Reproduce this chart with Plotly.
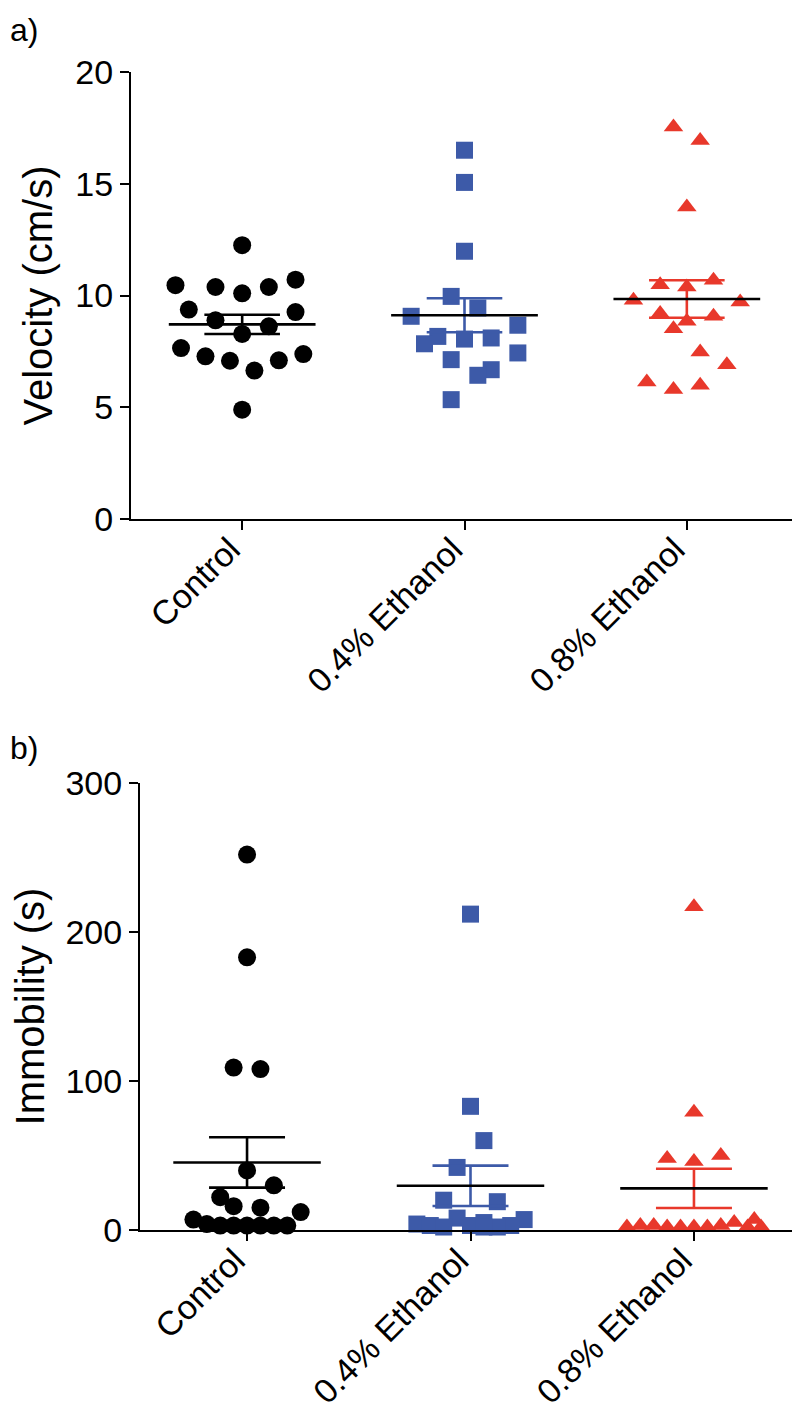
import numpy as np
import plotly.graph_objects as go

# ---------------- data ----------------
groups = ["Control", "0.4% Ethanol", "0.8% Ethanol"]

vel_control = [12.25, 10.46, 10.38, 10.10, 10.38, 10.71, 9.37, 9.26, 8.89, 8.62,
               8.28, 7.65, 7.28, 7.08, 6.64, 7.10, 7.38, 4.89]
vel_eth04 = [16.5, 15.06, 11.98, 9.96, 9.44, 9.07, 8.67, 8.17, 7.84, 8.05,
             8.10, 7.43, 7.13, 6.68, 6.43, 5.34]
vel_eth08 = [17.54, 16.94, 13.96, 10.68, 10.48, 10.38, 9.79, 9.71, 9.19, 9.07,
             8.85, 8.51, 7.47, 6.90, 6.13, 5.79, 5.98]

imm_control = [252, 183, 109, 108, 40, 30, 22, 16, 15, 12, 7, 4, 3, 3, 3, 3, 3, 3]
imm_eth04 = [212, 83, 60, 42, 20, 19, 8, 7, 5, 4, 3, 3, 3, 2, 2, 2]
imm_eth08 = [217, 79, 50, 48, 46, 7, 5, 3, 3, 3, 2, 2, 2, 2, 2, 2, 2]

# beeswarm horizontal spread (category units)
vel_control_dx = [0, -0.30, -0.12, 0, 0.12, 0.24, -0.24, 0.24, -0.12, 0.12,
                  0, -0.275, -0.165, -0.055, 0.055, 0.165, 0.275, 0]
vel_eth04_dx = [0, 0, 0, -0.06, 0.06, -0.24, 0.24, -0.12, -0.18, 0,
                0.12, 0.24, -0.06, 0.12, 0.06, -0.06]
vel_eth08_dx = [-0.06, 0.06, 0, 0.12, -0.12, 0, -0.24, 0.24, -0.12, 0.12,
                0, -0.06, 0.06, 0.18, -0.18, -0.06, 0.06]

imm_control_dx = [0, 0, -0.06, 0.06, 0, 0.12, -0.12, -0.06, 0.06, 0.24,
                  -0.24, -0.18, -0.12, -0.06, 0, 0.06, 0.12, 0.18]
imm_eth04_dx = [0, 0, 0.06, -0.06, -0.12, 0.12, -0.06, 0.24, 0.06, -0.24,
                0.18, -0.18, 0, -0.12, 0.12, 0.06]
imm_eth08_dx = [0, 0, 0.12, -0.12, 0, 0.27, 0.18, -0.24, -0.18, 0.12,
                -0.06, 0.06, -0.30, 0, -0.12, 0.30, 0.24]

BLACK = "#000000"
BLUE = "#3D5AA8"
RED = "#E8382B"

W, H = 800, 1421
FONT = "Liberation Sans, Arial, Helvetica, sans-serif"

fig = go.Figure()


def add_group(idx, vals, dx, color, symbol, size, errcolor, xa, ya):
    xs = [idx + d for d in dx]
    fig.add_trace(go.Scatter(
        x=xs, y=vals, mode="markers", xaxis=xa, yaxis=ya,
        marker=dict(symbol=symbol, size=size, color=color, line=dict(width=0)),
        cliponaxis=False, showlegend=False, hoverinfo="y"))
    arr = np.array(vals, dtype=float)
    m = arr.mean()
    sem = arr.std(ddof=1) / np.sqrt(len(arr))
    lw = 2.6
    # SEM bar with caps
    fig.add_trace(go.Scatter(
        x=[idx, idx, None, idx - 0.17, idx + 0.17, None, idx - 0.17, idx + 0.17],
        y=[m - sem, m + sem, None, m + sem, m + sem, None, m - sem, m - sem],
        mode="lines", line=dict(color=errcolor, width=lw), xaxis=xa, yaxis=ya,
        cliponaxis=False, showlegend=False, hoverinfo="skip"))
    # mean line
    fig.add_trace(go.Scatter(
        x=[idx - 0.33, idx + 0.33], y=[m, m], mode="lines",
        line=dict(color=BLACK, width=lw), xaxis=xa, yaxis=ya,
        cliponaxis=False, showlegend=False, hoverinfo="skip"))


add_group(0, vel_control, vel_control_dx, BLACK, "circle", 18, BLACK, "x", "y")
add_group(1, vel_eth04, vel_eth04_dx, BLUE, "square", 17, BLUE, "x", "y")
add_group(2, vel_eth08, vel_eth08_dx, RED, "triangle-up", 17, RED, "x", "y")

add_group(0, imm_control, imm_control_dx, BLACK, "circle", 18, BLACK, "x2", "y2")
add_group(1, imm_eth04, imm_eth04_dx, BLUE, "square", 17, BLUE, "x2", "y2")
add_group(2, imm_eth08, imm_eth08_dx, RED, "triangle-up", 17, RED, "x2", "y2")

tickfont = dict(family=FONT, size=34, color="black")
titlefont = dict(family=FONT, size=40, color="black")

common_x = dict(tickmode="array", tickvals=[0, 1, 2], ticktext=groups,
                tickangle=-45, ticks="outside", ticklen=9,
                tickwidth=2, tickcolor="black", showline=True, linewidth=2,
                linecolor="black", showgrid=False, zeroline=False,
                tickfont=tickfont, fixedrange=True, automargin=False,
                ticklabelstandoff=-14, ticklabelshift=-12)
common_y = dict(ticks="outside", ticklen=9, tickwidth=2, tickcolor="black",
                showline=True, linewidth=2, linecolor="black", showgrid=False,
                zeroline=False, tickfont=tickfont, fixedrange=True,
                automargin=False)

fig.update_layout(
    width=W, height=H,
    margin=dict(l=0, r=0, t=0, b=0),
    paper_bgcolor="white", plot_bgcolor="white",
    font=dict(family=FONT, color="black"),
    xaxis=dict(domain=[123 / W, 790 / W], anchor="y", range=[-0.5, 2.5],
               **common_x),
    yaxis=dict(domain=[1 - 511 / H, 1 - 64 / H], anchor="x", range=[0, 20],
               tickvals=[0, 5, 10, 15, 20],
               title=dict(text="Velocity (cm/s)", font=titlefont, standoff=10),
               **common_y),
    xaxis2=dict(domain=[132 / W, 793 / W], anchor="y2", range=[-0.479, 2.479],
                **common_x),
    yaxis2=dict(domain=[1 - 1222 / H, 1 - 775 / H], anchor="x2", range=[0, 300],
                tickvals=[0, 100, 200, 300],
                title=dict(text="Immobility (s)", font=titlefont, standoff=10),
                **common_y),
    annotations=[
        dict(text="a)", x=0.0, y=1 - 22 / H, xref="paper", yref="paper",
             xanchor="left", yanchor="middle", showarrow=False,
             font=dict(family=FONT, size=32, color="black")),
        dict(text="b)", x=0.0, y=1 - 740 / H, xref="paper", yref="paper",
             xanchor="left", yanchor="middle", showarrow=False,
             font=dict(family=FONT, size=32, color="black")),
    ],
)

fig.write_html("out.html")
